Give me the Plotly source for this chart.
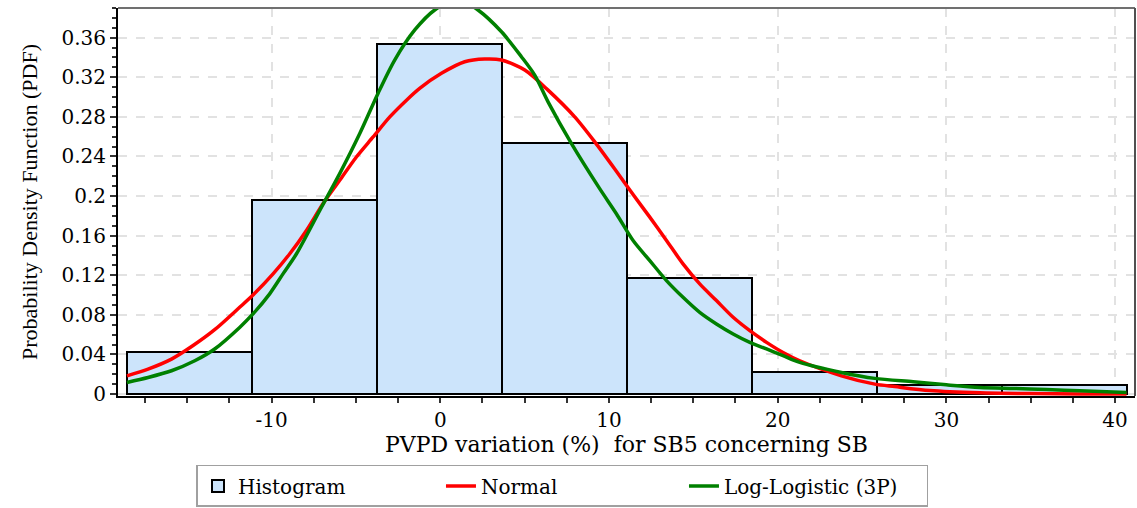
import plotly.graph_objects as go

# Histogram of PVPD variation (relative frequency per bin)
bin_edges = [-18.55, -11.145, -3.74, 3.665, 11.07, 18.475, 25.88, 33.285, 40.69]
bin_freq = [0.042, 0.196, 0.354, 0.254, 0.117, 0.022, 0.009, 0.009]

# Fitted Normal curve (scaled to bin width)
normal_x = [-18.57, -17.32, -15.93, -14.65, -13.37, -11.89, -11.10, -9.91, -8.92, -7.93,
            -6.95, -5.96, -4.97, -3.98, -2.99, -2.00, -1.22, 0.07, 1.45, 2.64, 3.63,
            5.01, 6.39, 7.97, 9.16, 10.44, 11.43, 12.42, 13.41, 14.39, 15.38, 16.37,
            17.36, 18.35, 19.34, 20.32, 21.31, 23.78, 25.76, 26.94, 29.02, 31.98,
            34.95, 37.9, 40.68]
normal_y = [0.0184, 0.0252, 0.0353, 0.0490, 0.0650, 0.0876, 0.1000, 0.1214, 0.1417, 0.1653,
            0.1923, 0.2159, 0.2395, 0.2597, 0.2800, 0.2969, 0.3088, 0.3240, 0.3357, 0.3384, 0.3374,
            0.3273, 0.3070, 0.2800, 0.2547, 0.2250, 0.2015, 0.1787, 0.1551, 0.1315, 0.1113, 0.0944,
            0.0775, 0.0640, 0.0522, 0.0420, 0.0336, 0.0184, 0.0100, 0.0075, 0.0035, 0.0012,
            0.0004, 0.0001, 0.0]

# Fitted Log-Logistic (3P) curve (scaled to bin width)
loglog_x = [-18.57, -17.32, -15.93, -14.55, -13.37, -11.89, -11.10, -10.11, -9.32, -8.52,
            -7.14, -5.96, -4.77, -3.69, -2.70, -1.51, -0.33, 0.5, 1.0, 1.5, 2.24, 3.63,
            4.81, 5.60, 6.39, 7.78, 9.45, 10.44, 11.43, 12.42, 13.41, 14.39, 15.38, 16.37,
            17.36, 18.35, 19.34, 20.32, 21.31, 23.78, 25.76, 28.03, 30.0, 31.98, 33.95,
            35.93, 37.91, 40.68]
loglog_y = [0.0117, 0.0167, 0.0235, 0.0336, 0.0455, 0.0673, 0.0809, 0.1012, 0.1214, 0.1417,
            0.1855, 0.2227, 0.2632, 0.3037, 0.3374, 0.3678, 0.3880, 0.3950, 0.3960, 0.3950, 0.3880, 0.3660,
            0.3408, 0.3222, 0.2952, 0.2530, 0.2075, 0.1822, 0.1551, 0.1348, 0.1146, 0.0977, 0.0825, 0.0708,
            0.0607, 0.0522, 0.0455, 0.0387, 0.0319, 0.0218, 0.0158, 0.0124, 0.0093, 0.0066, 0.0056,
            0.0046, 0.0032, 0.0015]

x_tickvals = [-10, 0, 10, 20, 30, 40]
x_ticktext = ["-10", "0", "10", "20", "30", "40"]
y_tickvals = [0, 0.04, 0.08, 0.12, 0.16, 0.2, 0.24, 0.28, 0.32, 0.36]
y_ticktext = ["0", "0.04", "0.08", "0.12", "0.16", "0.2", "0.24", "0.28", "0.32", "0.36"]

SERIF = "DejaVu Serif"
TITLE_SERIF = "Liberation Serif"

bin_centers = [(a + b) / 2 for a, b in zip(bin_edges[:-1], bin_edges[1:])]
bin_widths = [b - a for a, b in zip(bin_edges[:-1], bin_edges[1:])]

fig = go.Figure()
fig.add_trace(go.Bar(
    x=bin_centers, y=bin_freq, width=bin_widths, name="Histogram",
    marker=dict(color="#cce4fb", line=dict(color="black", width=2)),
))
fig.add_trace(go.Scatter(
    x=normal_x, y=normal_y, mode="lines", name="Normal",
    line=dict(color="#ff0000", width=3.5, shape="spline", smoothing=0.8),
))
fig.add_trace(go.Scatter(
    x=loglog_x, y=loglog_y, mode="lines", name="Log-Logistic (3P)",
    line=dict(color="#008000", width=3.5, shape="spline", smoothing=0.8),
))

grid = dict(showgrid=True, gridcolor="#e2e2e2", gridwidth=1.5, griddash="dash", zeroline=False)

fig.update_layout(
    width=1137, height=508,
    margin=dict(l=118, r=2, t=8, b=112),
    paper_bgcolor="white", plot_bgcolor="white",
    font=dict(family=SERIF, color="black", size=20),
    bargap=0,
    showlegend=True,
    legend=dict(
        orientation="h", xref="container", yref="container",
        x=0.4947, xanchor="center", y=0.002, yanchor="bottom",
        bordercolor="#a0a0a0", borderwidth=1.5,
        font=dict(family=SERIF, size=20, color="black"),
        entrywidth=198, entrywidthmode="pixels",
        itemwidth=30,
    ),
    xaxis=dict(
        range=[-19.1, 41.18],
        tickvals=x_tickvals, ticktext=x_ticktext,
        ticks="outside", ticklen=5, tickwidth=1.5, tickcolor="#333",
        showline=True, linecolor="black", linewidth=2,
        tickfont=dict(family=SERIF, size=20),
        minor=dict(dtick=2.5, tick0=0, ticks="outside", ticklen=5, tickcolor="#333", showgrid=False),
        title=dict(text="PVPD variation (%)\u00a0 for SB5 concerning SB",
                   font=dict(family=SERIF, size=22), standoff=2),
        **grid,
    ),
    yaxis=dict(
        range=[-0.002, 0.39],
        tickvals=y_tickvals, ticktext=y_ticktext,
        ticks="outside", ticklen=6, tickwidth=1.5, tickcolor="#333",
        showline=True, linecolor="black", linewidth=2,
        tickfont=dict(family=SERIF, size=20),
        minor=dict(dtick=0.01, tick0=0, ticks="outside", ticklen=4, tickcolor="#333", showgrid=False),
        title=dict(text="Probability Density Function (PDF)",
                   font=dict(family=TITLE_SERIF, size=22), standoff=18),
        **grid,
    ),
    shapes=[
        dict(type="line", xref="paper", yref="paper", x0=0, x1=1, y0=1, y1=1,
             line=dict(color="#707070", width=2)),
        dict(type="line", xref="paper", yref="paper", x0=1, x1=1, y0=0, y1=1,
             line=dict(color="#505050", width=2)),
    ],
)

fig.write_html("out.html")
